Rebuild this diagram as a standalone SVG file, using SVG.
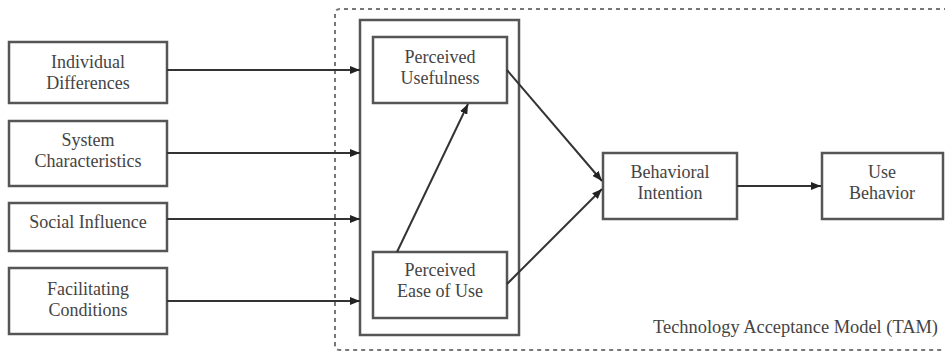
<svg xmlns="http://www.w3.org/2000/svg" width="945" height="353" viewBox="0 0 945 353">
<style>
.box{fill:#fff;stroke:#555;stroke-width:2.5}
.frame{fill:none;stroke:#555;stroke-width:2.5}
.dot{fill:none;stroke:#777;stroke-width:2;stroke-dasharray:4 4}
text{font-family:'Liberation Serif','DejaVu Serif',serif;font-size:18px;fill:#444}
.lbl{text-anchor:middle}
.conn{stroke:#333;stroke-width:2;fill:none;marker-end:url(#ah)}
</style>
<defs>
<marker id="ah" viewBox="0 0 10 8" refX="10" refY="4" markerWidth="10" markerHeight="8" markerUnits="userSpaceOnUse" orient="auto">
<path d="M0,0 L10,4 L0,8 Z" fill="#222"/>
</marker>
</defs>
<rect width="945" height="353" fill="#fff"/>
<g id="tam-frame">
<path class="dot" d="M948,9 L340,9 Q335,9 335,14 L335,345 Q335,350 340,350 L948,350"/>
<text x="653" y="333" font-family="Liberation Serif, DejaVu Serif, serif" textLength="285" lengthAdjust="spacingAndGlyphs">Technology Acceptance Model (TAM)</text>
</g>
<g id="perception-group">
<rect class="frame" x="360" y="20" width="159" height="315"/>
</g>
<g id="individual-differences">
<rect class="box" x="9" y="42" width="158" height="61"/>
<text class="lbl" x="88" y="68">Individual</text>
<text class="lbl" x="88" y="89">Differences</text>
</g>
<g id="system-characteristics">
<rect class="box" x="9" y="121" width="158" height="65"/>
<text class="lbl" x="88" y="146">System</text>
<text class="lbl" x="88" y="167">Characteristics</text>
</g>
<g id="social-influence">
<rect class="box" x="9" y="203" width="158" height="48"/>
<text class="lbl" x="88" y="228">Social Influence</text>
</g>
<g id="facilitating-conditions">
<rect class="box" x="9" y="268" width="158" height="66"/>
<text class="lbl" x="88" y="295">Facilitating</text>
<text class="lbl" x="88" y="316">Conditions</text>
</g>
<g id="perceived-usefulness">
<rect class="box" x="373" y="37" width="134" height="66"/>
<text class="lbl" x="440" y="63">Perceived</text>
<text class="lbl" x="440" y="84">Usefulness</text>
</g>
<g id="perceived-ease-of-use">
<rect class="box" x="373" y="252" width="134" height="66"/>
<text class="lbl" x="440" y="276">Perceived</text>
<text class="lbl" x="440" y="297">Ease of Use</text>
</g>
<g id="behavioral-intention">
<rect class="box" x="603" y="153" width="134" height="66"/>
<text class="lbl" x="670" y="178">Behavioral</text>
<text class="lbl" x="670" y="199">Intention</text>
</g>
<g id="use-behavior">
<rect class="box" x="822" y="153" width="121" height="66"/>
<text class="lbl" x="882" y="178">Use</text>
<text class="lbl" x="882" y="199">Behavior</text>
</g>
<g id="connectors">
<line class="conn" x1="167" y1="70" x2="360" y2="70"/>
<line class="conn" x1="167" y1="153" x2="360" y2="153"/>
<line class="conn" x1="167" y1="219" x2="360" y2="219"/>
<line class="conn" x1="167" y1="301" x2="360" y2="301"/>
<line class="conn" x1="397" y1="252" x2="468" y2="104"/>
<line class="conn" x1="507" y1="70" x2="602" y2="181"/>
<line class="conn" x1="507" y1="284" x2="602" y2="189"/>
<line class="conn" x1="737" y1="186" x2="821" y2="186"/>
</g>
</svg>
